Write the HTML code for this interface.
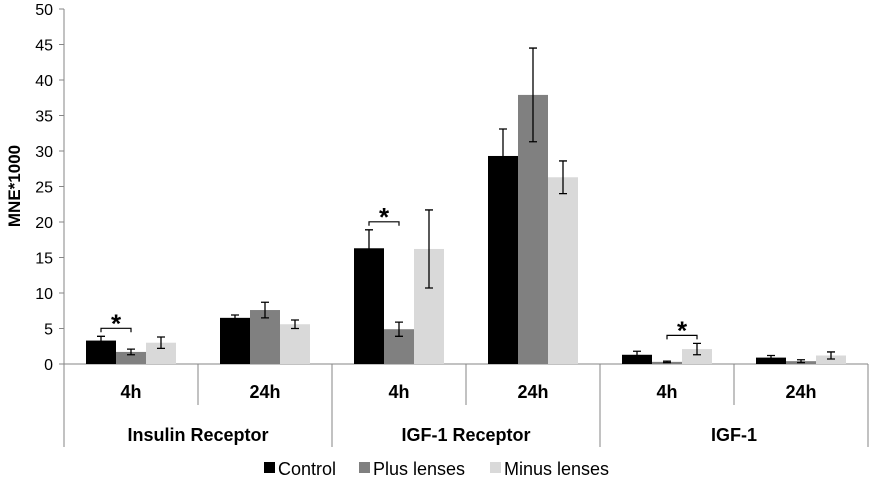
<!DOCTYPE html>
<html><head><meta charset="utf-8"><style>
body{margin:0;background:#fff;font-family:"Liberation Sans",Arial,sans-serif}
svg text{font-family:"Liberation Sans",Arial,sans-serif}
</style></head><body>
<svg id="c" width="875" height="481"></svg>
<script>
const groups=["Insulin Receptor","IGF-1 Receptor","IGF-1"];
const times=["4h","24h","4h","24h","4h","24h"];
const seriesNames=["Control","Plus lenses","Minus lenses"];
const control=[3.3,6.5,16.3,29.3,1.3,0.9];
const controlErr=[0.6,0.4,2.6,3.8,0.5,0.3];
const plus=[1.7,7.6,4.9,37.9,0.3,0.4];
const plusErr=[0.4,1.1,1.0,6.6,0.1,0.2];
const minus=[3.0,5.6,16.2,26.3,2.1,1.2];
const minusErr=[0.8,0.6,5.5,2.3,0.8,0.5];
const yTicks=[0,5,10,15,20,25,30,35,40,45,50];
const sig=[0,2,4];
const sigPair=[[0,1],[0,1],[1,2]];

const NS="http://www.w3.org/2000/svg",svg=document.getElementById('c');
function el(t,a,txt){const e=document.createElementNS(NS,t);for(const k in a)e.setAttribute(k,a[k]);if(txt!==undefined)e.textContent=txt;svg.appendChild(e);return e;}
const x0=64,x1=868,yTop=9,y0=364,cw=(x1-x0)/6;
const y=v=>y0-(y0-yTop)*v/50;
const catX=i=>x0+i*cw;
const bw=30,off=(cw-90)/2;
const barX=(i,s)=>catX(i)+off+s*bw;
let e=el('line',{x1:x0,y1:yTop,x2:x0,y2:y0,stroke:'#868686','stroke-width':1});

yTicks.forEach(t=>{
 let l=el('line',{x1:x0-5,y1:y(t),x2:x0,y2:y(t),stroke:'#868686'});
 
 let tx=el('text',{x:x0-11,y:y(t)+6,'text-anchor':'end','font-size':16,fill:'#000'},t);
 
});
e=el('text',{x:20,y:186,'font-size':17,'font-weight':'bold','text-anchor':'middle',transform:'rotate(-90 20 186)'},'MNE*1000');

e=el('line',{x1:x0,y1:y0,x2:x1,y2:y0,stroke:'#868686'});

for(let i=0;i<=6;i++){
 const bottom=(i%2==0)?447:405;
 let l=el('line',{x1:catX(i),y1:y0,x2:catX(i),y2:bottom,stroke:'#868686'});
 
}
times.forEach((t,i)=>{
 let tx=el('text',{x:catX(i)+cw/2,y:398,'text-anchor':'middle','font-size':18,'font-weight':'bold'},t);
 
});
groups.forEach((g,i)=>{
 let tx=el('text',{x:catX(2*i)+cw,y:441,'text-anchor':'middle','font-size':18,'font-weight':'bold'},g);
 
});
const series=[control,plus,minus],errs=[controlErr,plusErr,minusErr],cols=['#000000','#808080','#d9d9d9'];
series.forEach((arr,s)=>arr.forEach((v,i)=>{
 let r=el('rect',{x:barX(i,s),y:y(v),width:bw,height:y0-y(v),fill:cols[s]});
 
 const cx=barX(i,s)+bw/2,hi=y(v+errs[s][i]),lo=y(Math.max(0,v-errs[s][i]));
 let p=el('path',{d:`M${cx},${hi}V${lo}M${cx-4},${hi}H${cx+4}M${cx-4},${lo}H${cx+4}`,stroke:'#000','stroke-width':1.3,fill:'none'});
 
}));
sig.forEach((i,k)=>{
 const [a,b]=sigPair[k];
 const xa=barX(i,a)+bw/2,xb=barX(i,b)+bw/2;
 const top=Math.min(y(series[a][i]+errs[a][i]),y(series[b][i]+errs[b][i]))-8;
 let p=el('path',{d:`M${xa},${top+4}V${top}H${xb}V${top+4}`,stroke:'#000','stroke-width':1.2,fill:'none'});
 
 let t=el('text',{x:(xa+xb)/2,y:top+4,'text-anchor':'middle','font-size':26,'font-weight':'bold'},'*');
 
});
const lx=[264,359,490];
seriesNames.forEach((n,s)=>{
 let r=el('rect',{x:lx[s],y:462,width:11,height:11,fill:cols[s]});
 
 let t=el('text',{x:lx[s]+14,y:475,'font-size':18},n);
 
});
</script>
</body></html>
